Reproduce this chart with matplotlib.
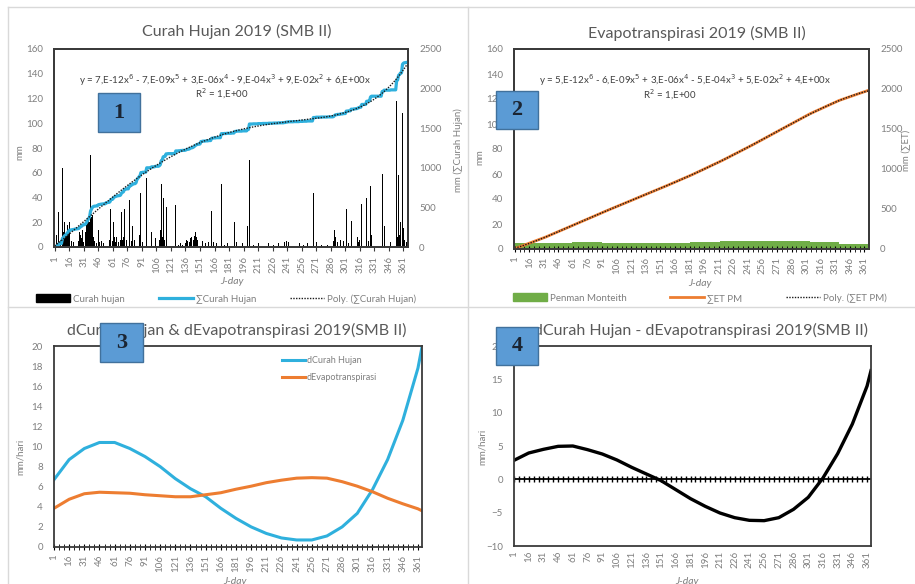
import numpy as np
import matplotlib
matplotlib.use('Agg')
import matplotlib.pyplot as plt
from matplotlib.patches import Rectangle, Patch
from matplotlib.lines import Line2D

plt.rcParams['font.family'] = ['Lato', 'DejaVu Sans']

# ---- data ----
# daily rainfall (wet days only), mm
rain_day = [3, 5, 7, 9, 10, 11, 12, 13, 14, 15, 16,
            18, 20, 22, 24, 26, 27, 28, 29, 30,
            31, 33, 34, 35, 36, 37, 38, 39, 40, 41, 42, 44, 46, 47,
            49, 51, 54, 56, 58, 59, 61, 62, 63, 64,
            65, 67, 69, 70, 71, 72, 73, 75, 78, 80, 81,
            83, 85, 86, 87, 88, 89, 90, 92,
            96, 101, 105,
            109, 110, 111, 112, 113, 114, 116, 118, 126,
            129, 131, 133, 136, 137, 138, 140, 141, 142, 144, 145, 146, 147, 148, 149,
            151, 152, 154, 157, 160, 163, 165, 168, 173, 176, 179,
            184, 187, 189, 195, 200, 202,
            206, 211, 216, 222, 227, 232, 238, 240, 242, 248, 254, 258, 262,
            268, 271, 276, 283, 289, 290, 291, 293, 296, 299, 302, 304, 307, 310, 312, 314, 315, 316,
            318, 323, 325, 327, 328, 339, 341, 348,
            354, 355, 356, 357, 358, 360, 361, 362, 364]
rain_mm = [10, 28, 6, 64, 12, 20, 9, 11, 18, 14, 20,
           5, 4, 6, 3, 5, 12, 10, 7, 14,
           4, 12, 18, 22, 25, 20, 74, 24, 26, 8, 5, 3, 14, 4,
           5, 3, 14, 4, 6, 31, 5, 20, 8, 4,
           8, 4, 6, 28, 6, 8, 31, 6, 38, 5, 17,
           6, 12, 42, 14, 18, 10, 44, 4,
           56, 12, 7,
           6, 14, 51, 8, 40, 6, 32, 3, 34,
           2, 3, 2, 3, 6, 5, 4, 7, 8, 6, 9, 12, 8, 6, 4,
           3, 31, 5, 3, 4, 29, 4, 3, 51, 2, 3,
           3, 20, 4, 3, 17, 70,
           2, 3, 2, 3, 2, 3, 4, 5, 4, 2, 3, 2, 3,
           44, 4, 2, 2, 5, 14, 8, 4, 6, 5, 31, 3, 21, 4, 3, 8, 4, 6,
           35, 40, 5, 49, 10, 59, 17, 4,
           118, 8, 58, 10, 20, 108, 15, 6, 4]

# Penman-Monteith ET, mean mm/day per month
month_days = [31, 28, 31, 30, 31, 30, 31, 31, 30, 31, 30, 31]
et_month = [4.5, 5.2, 5.3, 5.1, 5.0, 5.2, 5.7, 6.2, 6.6, 6.6, 5.6, 4.2]

# derivative curves (mm/hari) at the labelled J-days
d_days = [1, 16, 31, 46, 61, 76, 91, 106, 121, 136, 151, 166, 181,
          196, 211, 226, 241, 256, 271, 286, 301, 316, 331, 346, 361, 365]
d_curah = [6.7, 8.7, 9.8, 10.4, 10.4, 9.8, 9.0, 8.0, 6.8, 5.8, 5.0, 3.85, 2.85,
           2.0, 1.35, 0.9, 0.7, 0.7, 1.1, 2.0, 3.35, 5.7, 8.7, 12.6, 17.8, 19.9]
d_evap = [3.85, 4.75, 5.3, 5.45, 5.4, 5.35, 5.2, 5.1, 5.0, 5.0, 5.2, 5.4, 5.75,
          6.05, 6.4, 6.65, 6.85, 6.9, 6.85, 6.5, 6.05, 5.5, 4.85, 4.3, 3.8, 3.6]

tick_days = list(range(1, 366, 15))
minor_days = list(range(1, 366, 5))

days = np.arange(1, 366)
rain = np.zeros(365)
rain[np.array(rain_day) - 1] = rain_mm
cum_rain = np.cumsum(rain)
poly_rain = np.polyval(np.polyfit(days, cum_rain, 6), days)

et = np.repeat(et_month, month_days)
cum_et = np.cumsum(et)
poly_et = np.polyval(np.polyfit(days, cum_et, 6), days)

d_diff = np.array(d_curah) - np.array(d_evap)

# colours
cyan = '#2FB0DD'
orange = '#ED7D31'
green = '#70AD47'
grey_txt = '#7F7F7F'
title_c = '#595959'
frame_c = '#3A3A3A'

W, H = 915, 584
fig = plt.figure(figsize=(9.15, 5.84), dpi=100)


def fx(x):
    return x / W


def fy(y):
    return 1 - y / H


def add_ax(l, t, r, b):
    return fig.add_axes([fx(l), fy(b), fx(r - l), (b - t) / H])


def style(ax):
    for s in ax.spines.values():
        s.set_color(frame_c)
        s.set_linewidth(1.3)
    ax.tick_params(axis='y', length=0, labelsize=7, labelcolor=grey_txt, pad=8)
    ax.set_xticks(tick_days)
    ax.set_xticklabels([str(d) for d in tick_days], rotation=90, fontsize=7,
                       color=grey_txt)


def style_right(ax):
    ax.set_ylim(0, 2500)
    ax.set_yticks(range(0, 2501, 500))
    ax.tick_params(axis='y', length=0, labelsize=7, labelcolor=grey_txt, pad=8)
    for s in ax.spines.values():
        s.set_color(frame_c)
        s.set_linewidth(1.3)


eq_kw = dict(ha='center', va='center', fontsize=7, color='#404040')
title_kw = dict(ha='center', va='center', fontsize=11.5, color=title_c)
lab_kw = dict(rotation=90, ha='center', va='center', fontsize=7, color=grey_txt)
jday_kw = dict(ha='center', va='center', fontsize=7.5, style='italic', color=grey_txt)

# ---------- panel 1 ----------
ax1 = add_ax(54, 49, 408, 247)
ax1.bar(days, rain, width=0.9, color='black', linewidth=0)
ax1.set_ylim(0, 160)
ax1.set_yticks(range(0, 161, 20))
ax1.set_xlim(0.3, 365.7)
style(ax1)
ax1.tick_params(axis='x', length=3, direction='out', color=frame_c)
ax1b = ax1.twinx()
ax1b.plot(days, cum_rain, color=cyan, lw=2.3)
ax1b.plot(days, poly_rain, color='#1a1a1a', lw=1, ls=(0, (1, 1)))
style_right(ax1b)

fig.text(fx(237), fy(31), 'Curah Hujan 2019 (SMB II)', **title_kw)
fig.text(fx(225), fy(80), 'y = 7,E-12x$^6$ - 7,E-09x$^5$ + 3,E-06x$^4$ - 9,E-04x$^3$ + 9,E-02x$^2$ + 6,E+00x', **eq_kw)
fig.text(fx(222), fy(94), 'R$^2$ = 1,E+00', **eq_kw)
fig.text(fx(20), fy(152), 'mm', **lab_kw)
fig.text(fx(458), fy(150), 'mm (∑Curah Hujan)', **lab_kw)
fig.text(fx(232), fy(281), 'J-day', **jday_kw)
fig.legend(handles=[Patch(color='black', label='Curah hujan'),
                    Line2D([], [], color=cyan, lw=2.3, label='∑Curah Hujan'),
                    Line2D([], [], color='#1a1a1a', lw=1, ls=(0, (1, 1)),
                           label='Poly. (∑Curah Hujan)')],
           loc='center', bbox_to_anchor=(fx(226), fy(299)), ncol=3, frameon=False,
           fontsize=7, labelcolor=grey_txt, handlelength=3.5, handleheight=0.9,
           columnspacing=3.5, handletextpad=0.3)

# ---------- panel 2 ----------
ax2 = add_ax(514, 49, 869, 249)
ax2.bar(days, et, width=1.0, color=green, linewidth=0)
ax2.set_ylim(0, 160)
ax2.set_yticks(range(0, 161, 20))
ax2.set_xlim(0.3, 365.7)
style(ax2)
ax2.set_xticks(minor_days, minor=True)
ax2.tick_params(axis='x', which='both', direction='inout', length=4, color='black')
ax2b = ax2.twinx()
ax2b.plot(days, cum_et, color=orange, lw=2)
ax2b.plot(days, poly_et, color='#1a1a1a', lw=1, ls=(0, (1, 1)))
style_right(ax2b)

fig.text(fx(697), fy(33), 'Evapotranspirasi 2019 (SMB II)', **title_kw)
fig.text(fx(685), fy(80), 'y = 5,E-12x$^6$ - 6,E-09x$^5$ + 3,E-06x$^4$ - 5,E-04x$^3$ + 5,E-02x$^2$ + 4,E+00x', **eq_kw)
fig.text(fx(670), fy(95), 'R$^2$ = 1,E+00', **eq_kw)
fig.text(fx(480), fy(157), 'mm', **lab_kw)
fig.text(fx(907), fy(150), 'mm (∑ET)', **lab_kw)
fig.text(fx(700), fy(283), 'J-day', **jday_kw)
fig.legend(handles=[Patch(color=green, label='Penman Monteith'),
                    Line2D([], [], color=orange, lw=2, label='∑ET PM'),
                    Line2D([], [], color='#1a1a1a', lw=1, ls=(0, (1, 1)),
                           label='Poly. (∑ET PM)')],
           loc='center', bbox_to_anchor=(fx(700), fy(298)), ncol=3, frameon=False,
           fontsize=7, labelcolor=grey_txt, handlelength=3.5, handleheight=0.9,
           columnspacing=4.5, handletextpad=0.3)

# ---------- panel 3 ----------
ax3 = add_ax(54, 346, 422, 547)
ax3.plot(d_days, d_curah, color=cyan, lw=2.2, label='dCurah Hujan')
ax3.plot(d_days, d_evap, color=orange, lw=2.2, label='dEvapotranspirasi')
ax3.set_ylim(0, 20)
ax3.set_yticks(range(0, 21, 2))
ax3.set_xlim(1, 365)
style(ax3)
ax3.set_xticks(minor_days, minor=True)
ax3.tick_params(axis='x', which='both', direction='inout', length=4, color='black')
ax3.legend(loc='upper right', bbox_to_anchor=(0.90, 0.99), frameon=False, fontsize=6.5,
           labelcolor=grey_txt, handlelength=2.5, handletextpad=0.2, labelspacing=0.9)
fig.text(fx(237), fy(330), 'dCurah Hujan & dEvapotranspirasi 2019(SMB II)', **title_kw)
fig.text(fx(20), fy(457), 'mm/hari', **lab_kw)
fig.text(fx(235), fy(581), 'J-day', **jday_kw)

# ---------- panel 4 ----------
ax4 = add_ax(514, 346, 871, 546)
ax4.plot(d_days, d_diff, color='black', lw=2.4)
ax4.axhline(0, color='black', lw=1.3)
ax4.plot(minor_days, [0] * len(minor_days), ls='none', marker='|',
         ms=4, mew=1, color='black')
ax4.set_ylim(-10, 20)
ax4.set_yticks(range(-10, 21, 5))
ax4.set_xlim(1, 365)
style(ax4)
ax4.tick_params(axis='x', length=0)
fig.text(fx(701), fy(330), 'dCurah Hujan - dEvapotranspirasi 2019(SMB II)', **title_kw)
fig.text(fx(482), fy(447), 'mm/hari', **lab_kw)
fig.text(fx(687), fy(581), 'J-day', **jday_kw)

# ---------- separators and number boxes ----------
for xs, ys in [([8, 915], [7, 7]), ([8, 915], [307, 307]), ([8, 8], [7, 584]),
               ([468, 468], [7, 584])]:
    fig.add_artist(Line2D([fx(x) for x in xs], [fy(y) for y in ys], color='#D9D9D9', lw=1))

for num, (l, t, r, b) in zip(['1', '2', '3', '4'],
                             [(98, 93, 140, 132), (496, 91, 538, 129),
                              (100, 323, 143, 362), (496, 327, 538, 365)]):
    fig.add_artist(Rectangle((fx(l), fy(b)), fx(r - l), (b - t) / H, facecolor='#5B9BD5',
                             edgecolor='#41719C', lw=1, zorder=10))
    fig.text(fx((l + r) / 2), fy((t + b) / 2), num, ha='center', va='center', fontsize=16,
             fontweight='bold', family='Liberation Serif', color='#1B2533', zorder=11)

fig.savefig('out.png', dpi=100)
